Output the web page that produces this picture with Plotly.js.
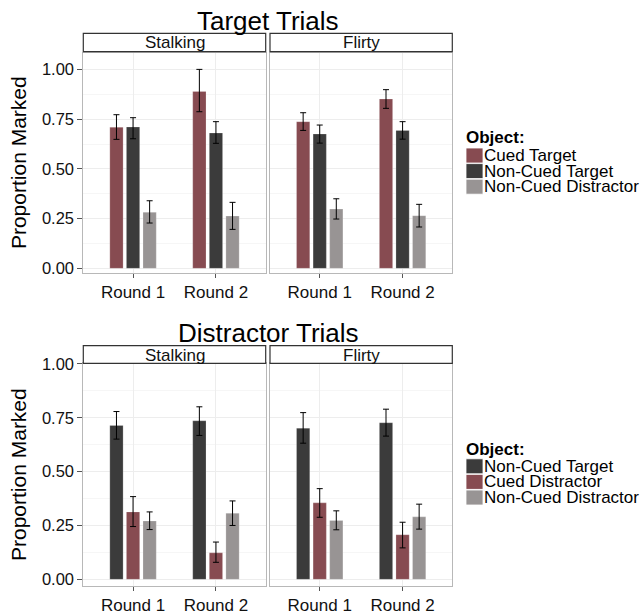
<!DOCTYPE html>
<html>
<head>
<meta charset="utf-8">
<script src="https://cdn.plot.ly/plotly-3.0.1.min.js"></script>
<style>html,body{margin:0;padding:0;background:#fff;}#chart{width:644px;height:611px;}</style>
</head>
<body>
<div id="chart"></div>
<script>
// ---------- data ----------
const rounds = ["Round 1", "Round 2"];
const facets = ["Stalking", "Flirty"];

// Target trials
const tgtObjects = ["Cued Target", "Non-Cued Target", "Non-Cued Distractor"];
const tgtColors = ["#874B51", "#3B3B3B", "#989494"];
// [object][round]
const tgtStalkingMean = [[0.710, 0.890], [0.711, 0.681], [0.282, 0.263]];
const tgtStalkingLow  = [[0.649, 0.788], [0.652, 0.629], [0.228, 0.196]];
const tgtStalkingHigh = [[0.773, 1.001], [0.758, 0.738], [0.340, 0.332]];
const tgtFlirtyMean   = [[0.738, 0.852], [0.676, 0.694], [0.298, 0.265]];
const tgtFlirtyLow    = [[0.694, 0.805], [0.630, 0.650], [0.248, 0.208]];
const tgtFlirtyHigh   = [[0.783, 0.899], [0.721, 0.738], [0.350, 0.322]];

// Distractor trials
const disObjects = ["Non-Cued Target", "Cued Distractor", "Non-Cued Distractor"];
const disColors = ["#3B3B3B", "#874B51", "#989494"];
const disStalkingMean = [[0.714, 0.736], [0.313, 0.123], [0.271, 0.307]];
const disStalkingLow  = [[0.651, 0.668], [0.245, 0.079], [0.231, 0.250]];
const disStalkingHigh = [[0.779, 0.801], [0.384, 0.173], [0.313, 0.364]];
const disFlirtyMean   = [[0.702, 0.727], [0.355, 0.207], [0.273, 0.290]];
const disFlirtyLow    = [[0.632, 0.665], [0.288, 0.146], [0.230, 0.233]];
const disFlirtyHigh   = [[0.774, 0.790], [0.421, 0.265], [0.318, 0.349]];

const yTicks = [0, 0.25, 0.5, 0.75, 1.0];

// ---------- build ----------
const FONT = "Liberation Sans, Arial, Helvetica, sans-serif";
const W = 644, H = 611;
const px = v => v / W;
const py = v => 1 - v / H;

function makeBars(objects, colors, mean, low, high, xa, ya) {
  return objects.map((name, i) => ({
    type: "bar",
    name: name,
    x: rounds,
    y: mean[i],
    xaxis: xa, yaxis: ya,
    showlegend: false,
    marker: { color: colors[i], line: { color: "rgba(255,255,255,0.35)", width: 0.6 } },
    error_y: {
      type: "data", symmetric: false,
      array: high[i].map((h, k) => h - mean[i][k]),
      arrayminus: low[i].map((l, k) => mean[i][k] - l),
      color: "#000", thickness: 1, width: 3
    },
    hoverinfo: "x+y+name"
  }));
}

const data = [].concat(
  makeBars(tgtObjects, tgtColors, tgtStalkingMean, tgtStalkingLow, tgtStalkingHigh, "x", "y"),
  makeBars(tgtObjects, tgtColors, tgtFlirtyMean, tgtFlirtyLow, tgtFlirtyHigh, "x2", "y2"),
  makeBars(disObjects, disColors, disStalkingMean, disStalkingLow, disStalkingHigh, "x3", "y3"),
  makeBars(disObjects, disColors, disFlirtyMean, disFlirtyLow, disFlirtyHigh, "x4", "y4")
);

// panel geometry (px)
const colL = [[83.3, 265.7], [270.0, 452.3]];
const rowTop = { panel: [52.7, 272.7], strip: [33.3, 51.7], range: [-0.022, 1.085] };
const rowBot = { panel: [363.3, 586.0], strip: [345.7, 363.3], range: [-0.031, 1.003] };

function xAxis(col, anchor) {
  return {
    domain: [px(colL[col][0]), px(colL[col][1])],
    anchor: anchor,
    type: "category",
    range: [-0.6, 1.6],
    showgrid: true, gridcolor: "#EDEDED", gridwidth: 1,
    zeroline: false,
    showline: true, mirror: true, linecolor: "#B8B8B8", linewidth: 1,
    ticks: "outside", ticklen: 4, tickcolor: "#555", tickwidth: 1,
    tickfont: { family: FONT, size: 17, color: "#111" }
  };
}
function yAxis(row, col, anchor, matchTo) {
  const a = {
    domain: [py(row.panel[1]), py(row.panel[0])],
    anchor: anchor,
    range: row.range,
    tickvals: yTicks,
    ticktext: yTicks.map(v => v.toFixed(2)),
    showgrid: true, gridcolor: "#EDEDED", gridwidth: 1,
    minor: { tickvals: [0.125, 0.375, 0.625, 0.875], showgrid: true, gridcolor: "#F6F6F6", gridwidth: 1 },
    zeroline: false,
    showline: true, mirror: true, linecolor: "#B8B8B8", linewidth: 1,
    tickfont: { family: FONT, size: 16.5, color: "#111" }
  };
  if (col === 0) {
    a.ticks = "outside"; a.ticklen = 5; a.tickcolor = "#555"; a.tickwidth = 1;
    a.title = { text: "Proportion Marked", font: { family: FONT, size: 21, color: "#000" }, standoff: 9 };
  } else {
    a.ticks = ""; a.showticklabels = false; a.matches = matchTo;
  }
  return a;
}

const shapes = [];
const annotations = [];

// strips
[rowTop, rowBot].forEach(row => {
  facets.forEach((f, c) => {
    shapes.push({
      type: "rect", xref: "paper", yref: "paper",
      x0: px(colL[c][0]), x1: px(colL[c][1]),
      y0: py(row.strip[1]), y1: py(row.strip[0]),
      fillcolor: "#FFFFFF", line: { color: "#333", width: 1.2 }, layer: "above"
    });
    annotations.push({
      xref: "paper", yref: "paper",
      x: px((colL[c][0] + colL[c][1]) / 2), y: py((row.strip[0] + row.strip[1]) / 2 + 0.5),
      xanchor: "center", yanchor: "middle", showarrow: false,
      text: f, font: { family: FONT, size: 17, color: "#111" }
    });
  });
});

// titles
annotations.push({ xref: "paper", yref: "paper", x: px(268), y: py(21), xanchor: "center", yanchor: "middle",
  showarrow: false, text: "Target Trials", font: { family: FONT, size: 26, color: "#000" } });
annotations.push({ xref: "paper", yref: "paper", x: px(268), y: py(333), xanchor: "center", yanchor: "middle",
  showarrow: false, text: "Distractor Trials", font: { family: FONT, size: 26, color: "#000" } });

// legends (custom, ggplot-like compact keys)
function legend(objects, colors, titleY, firstY) {
  annotations.push({ xref: "paper", yref: "paper", x: px(464), y: py(titleY), xanchor: "left", yanchor: "middle",
    showarrow: false, text: "<b>Object:</b>", font: { family: FONT, size: 17, color: "#000" } });
  objects.forEach((o, i) => {
    const cy = firstY + i * 15.6;
    shapes.push({ type: "rect", xref: "paper", yref: "paper",
      x0: px(466), x1: px(483), y0: py(cy + 7.5), y1: py(cy - 7.5),
      fillcolor: colors[i], line: { color: "#FFFFFF", width: 0.8 } });
    annotations.push({ xref: "paper", yref: "paper", x: px(482), y: py(cy), xanchor: "left", yanchor: "middle",
      showarrow: false, text: o, font: { family: FONT, size: 17, color: "#000" } });
  });
}
legend(tgtObjects, tgtColors, 137.5, 155.5);
legend(disObjects, disColors, 449, 466.3);

const layout = {
  width: W, height: H,
  margin: { l: 0, r: 0, t: 0, b: 0, pad: 0 },
  paper_bgcolor: "#FFFFFF", plot_bgcolor: "#FFFFFF",
  font: { family: FONT, color: "#000" },
  barmode: "group", bargap: 0.4, bargroupgap: 0.2,
  showlegend: false,
  xaxis: xAxis(0, "y"), yaxis: yAxis(rowTop, 0, "x"),
  xaxis2: xAxis(1, "y2"), yaxis2: yAxis(rowTop, 1, "x2", "y"),
  xaxis3: xAxis(0, "y3"), yaxis3: yAxis(rowBot, 0, "x3"),
  xaxis4: xAxis(1, "y4"), yaxis4: yAxis(rowBot, 1, "x4", "y3"),
  shapes: shapes,
  annotations: annotations
};

Plotly.newPlot("chart", data, layout, { staticPlot: true, displayModeBar: false });
</script>
</body>
</html>
